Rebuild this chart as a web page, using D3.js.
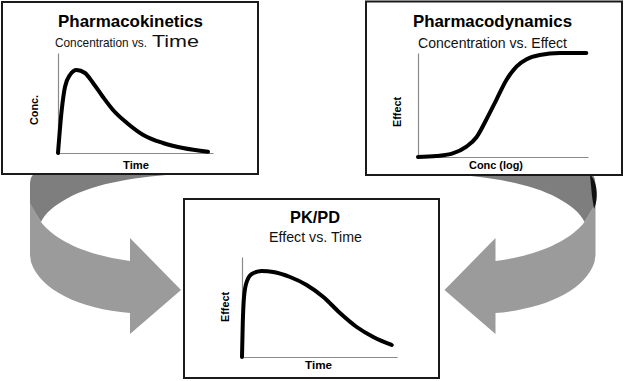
<!DOCTYPE html>
<html><head><meta charset="utf-8">
<script src="https://cdn.jsdelivr.net/npm/d3@7"></script>
<style>html,body{margin:0;padding:0;background:#fff;overflow:hidden;} svg{display:block;}</style>
</head><body><svg id="c" width="625" height="381"></svg>
<script>
// ---- data ----
const pkTime = [0, 0.24, 0.45, 0.77, 1.2, 1.74, 2.26, 2.9, 3.55, 4.45, 5.5, 6.77, 8.06, 9.68];
const pkConc = [0, 0.43, 0.66, 0.78, 0.83, 0.80, 0.70, 0.56, 0.43, 0.30, 0.18, 0.10, 0.05, 0.013];
const pdLogConc = [0, 1.08, 2.04, 2.85, 3.44, 4.02, 4.61, 5.2, 5.79, 6.39, 7.16, 8.35, 9.9];
const pdEffect = [0, 0.01, 0.035, 0.1, 0.19, 0.36, 0.55, 0.74, 0.87, 0.94, 0.98, 1.0, 1.0];
const pkpdTime = [0, 0.05, 0.13, 0.3, 0.63, 1.27, 2.02, 3.1, 4.17, 5.25, 6.32, 7.4, 8.47, 9.66];
const pkpdEffect = [0, 0.34, 0.60, 0.75, 0.83, 0.86, 0.85, 0.80, 0.72, 0.60, 0.44, 0.30, 0.20, 0.12];

const titles = ["Pharmacokinetics", "Pharmacodynamics", "PK/PD"];
const subtitles = [["Concentration vs.", "Time"], ["Concentration vs. Effect"], ["Effect vs. Time"]];
const xLabels = ["Time", "Conc (log)", "Time"];
const yLabels = ["Conc.", "Effect", "Effect"];

const svg = d3.select("#c");
const FONT = "Liberation Sans, Arial, sans-serif";

// ---- curved arrows (decoration) ----
const arrowLayer = svg.append("g");
function drawArrow(g) {
  g.append("path")
    .attr("d", "M34,174 L182,174 C140,176 95,183 68,198 C55,205 45,213 41,222 L30,204 L30,186 C30,180 31,176 34,174 Z")
    .attr("fill", "#7e7e7e");
  g.append("path")
    .attr("d", "M30,203 L41,222 C55,240 85,255 130,261 L130,238 L181,290 L130,334 L130,313 C80,309 40,290 31,262 L30,255 Z")
    .attr("fill", "#9b9b9b");
}
drawArrow(arrowLayer.append("g"));
drawArrow(arrowLayer.append("g").attr("transform", "translate(625.5,0) scale(-1,1)"));
arrowLayer.append("path")
  .attr("d", "M590,175 C597,180 599,198 594,209 L592,196 Z")
  .attr("fill", "#111");

// ---- panels ----
const panels = [
  { box: [2, 2, 258, 174], xr: [58, 213], yr: [153, 53], xs: pkTime, ys: pkConc,
    title: [58, 27, 145, 16.5], sub: [55, 47, 145], xl: [123, 169, 26], yl: [33.5, 110, 30] },
  { box: [366, 1.5, 622, 175], xr: [418, 588], yr: [157, 53], xs: pdLogConc, ys: pdEffect,
    title: [413, 27, 159, 16.5], sub: [418, 47.5, 149], xl: [469, 169, 54], yl: [397, 112, 30] },
  { box: [184, 199, 439, 378], xr: [242, 397], yr: [357, 257], xs: pkpdTime, ys: pkpdEffect,
    title: [290, 223, 50, 16.5], sub: [269, 242, 93], xl: [305, 369, 27], yl: [225, 307, 30] }
];

panels.forEach((p, i) => {
  const g = svg.append("g");
  const [bx0, by0, bx1, by1] = p.box;
  g.append("rect").attr("x", bx0).attr("y", by0).attr("width", bx1 - bx0).attr("height", by1 - by0)
    .attr("fill", "#fff").attr("stroke", "#1a1a1a").attr("stroke-width", 2);

  const x = d3.scaleLinear().domain([0, 10]).range(p.xr);
  const y = d3.scaleLinear().domain([0, 1]).range(p.yr);

  const ax = g.append("g").attr("transform", `translate(0,${p.yr[0]})`)
    .call(d3.axisBottom(x).ticks(0).tickSizeOuter(0));
  const ay = g.append("g").attr("transform", `translate(${p.xr[0]},0)`)
    .call(d3.axisLeft(y).ticks(0).tickSizeOuter(0));
  [ax, ay].forEach(a => a.select(".domain").attr("stroke", "#8a8a8a").attr("stroke-width", 1.2));

  const pts = p.xs.map((v, k) => [v, p.ys[k]]);
  g.append("path").datum(pts)
    .attr("d", d3.line().x(d => x(d[0])).y(d => y(d[1])).curve(d3.curveMonotoneX))
    .attr("fill", "none").attr("stroke", "#000").attr("stroke-width", 4)
    .attr("stroke-linecap", "round").attr("stroke-linejoin", "round");

  // title
  g.append("text").attr("x", p.title[0]).attr("y", p.title[1])
    .attr("textLength", p.title[2]).attr("lengthAdjust", "spacingAndGlyphs")
    .attr("font-family", FONT).attr("font-weight", "bold").attr("font-size", p.title[3])
    .attr("fill", "#000").text(titles[i]);

  // subtitle
  if (subtitles[i].length === 2) {
    g.append("text").attr("x", p.sub[0]).attr("y", p.sub[1])
      .attr("font-family", FONT).attr("font-size", 12.2).attr("fill", "#111")
      .attr("textLength", 92).attr("lengthAdjust", "spacingAndGlyphs").text(subtitles[i][0]);
    g.append("text").attr("x", p.sub[0] + 97).attr("y", p.sub[1])
      .attr("font-family", FONT).attr("font-size", 17).attr("fill", "#111")
      .attr("textLength", 47).attr("lengthAdjust", "spacingAndGlyphs").text(subtitles[i][1]);
  } else {
    g.append("text").attr("x", p.sub[0]).attr("y", p.sub[1])
      .attr("font-family", FONT).attr("font-size", 14.5).attr("fill", "#111")
      .attr("textLength", p.sub[2]).attr("lengthAdjust", "spacingAndGlyphs").text(subtitles[i][0]);
  }

  // x label
  g.append("text").attr("x", p.xl[0]).attr("y", p.xl[1])
    .attr("textLength", p.xl[2]).attr("lengthAdjust", "spacingAndGlyphs")
    .attr("font-family", FONT).attr("font-weight", "bold").attr("font-size", 11.5)
    .attr("fill", "#000").text(xLabels[i]);

  // y label (rotated)
  g.append("text").attr("transform", `translate(${p.yl[0] + 4},${p.yl[1]}) rotate(-90)`)
    .attr("text-anchor", "middle")
    .attr("textLength", p.yl[2]).attr("lengthAdjust", "spacingAndGlyphs")
    .attr("font-family", FONT).attr("font-weight", "bold").attr("font-size", 11.5)
    .attr("fill", "#000").text(yLabels[i]);
});
</script>
</body></html>
